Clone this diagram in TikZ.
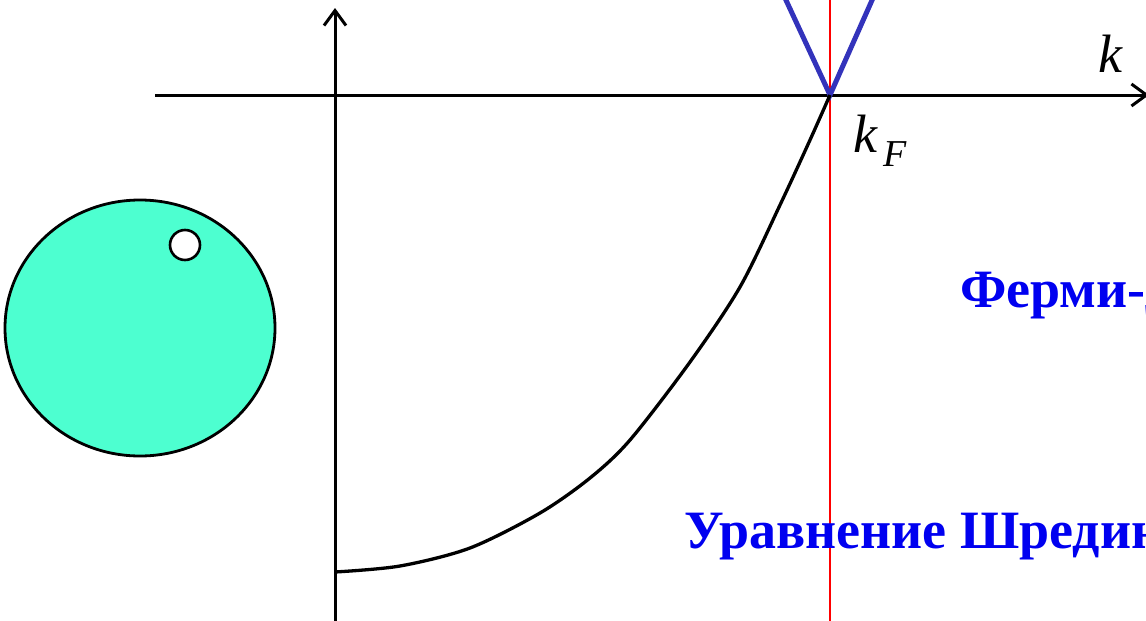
\documentclass[tikz,border=0pt]{standalone}
\usepackage{fontspec}
\setmainfont{Liberation Serif}
\usetikzlibrary{arrows.meta}
\definecolor{fermiblue}{RGB}{0,0,240}
\definecolor{vblue}{RGB}{51,51,187}
\definecolor{aqua}{RGB}{77,255,208}
\tikzset{
  axis/.style={line width=3pt, -{Straight Barb[length=15pt,width=22pt,line width=3pt]}},
  lbl/.style={font=\fontsize{54}{54}\selectfont\bfseries, text=fermiblue, inner sep=0pt, anchor=base west},
  klbl/.style={font=\fontsize{54}{54}\selectfont\itshape, inner sep=0pt, anchor=base west},
}
\begin{document}
\begin{tikzpicture}[x=1pt,y=-1pt]
\useasboundingbox (0,0) rectangle (1146,621);
\clip (0,0) rectangle (1146,621);
% sphere
\draw[line width=2.8pt, fill=aqua] (140,328) ellipse [x radius=135, y radius=128];
\draw[line width=2.6pt, fill=white] (185,245) circle [radius=15];
% axes
\coordinate (hx0) at (155,95);
\coordinate (hx1) at (1149,95);
\coordinate (vy0) at (335,625);
\coordinate (vy1) at (335,8);
\draw[axis] (hx0) -- (hx1);
\draw[axis] (vy0) -- (vy1);
% red line
\coordinate (kf) at (830,95);
\draw[red, line width=2.5pt] (830,-5) -- (830,625);
% blue V
\coordinate (va) at (785,-2);
\coordinate (vb) at (873,-2);
\draw[vblue, line width=5pt, line join=miter] (va) -- (kf) -- (vb);
% curve
\draw[line width=3.3pt] plot[smooth, tension=0.5] coordinates {(335,572) (400,566) (470,548) (540,513) (590,478) (630,440) (690,362) (740,287) (780,205) (810,140) (830,95)};
% labels
\node[klbl] (k) at (1098,72) {k};
\node[klbl] (kF) at (853,152) {k};
\node[font=\fontsize{38}{38}\selectfont\itshape, inner sep=0pt, anchor=base west] (F) at (883,166) {F};
\node[lbl] (fermi) at (960,307) {Ферми-Дирак};
\node[lbl] (schr) at (684,548) {Уравнение Шредингера};
\end{tikzpicture}
\end{document}
